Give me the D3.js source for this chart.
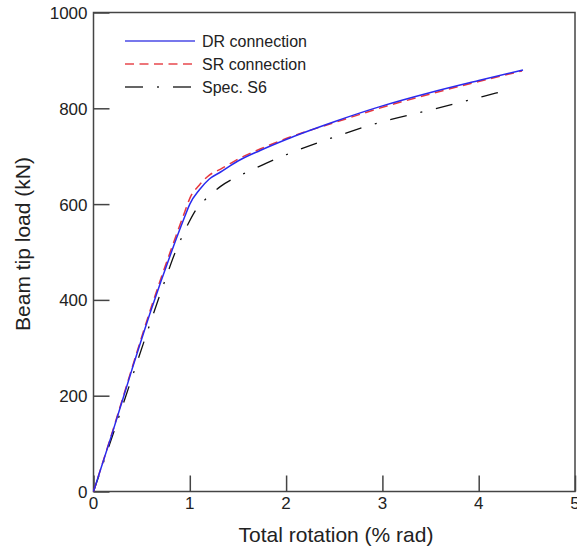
<!DOCTYPE html>
<html><head><meta charset="utf-8">
<script src="https://cdn.jsdelivr.net/npm/d3@7"></script>
<style>body{margin:0;background:#fff;} svg{display:block;font-family:"Liberation Sans",Arial,Helvetica,sans-serif;}</style>
</head><body>
<svg id="c" width="577" height="549"></svg>
<script>
const drRot  = [0, 0.2, 0.4, 0.6, 0.8, 0.95, 1.0, 1.1, 1.2, 1.32, 1.5, 1.73, 2.0, 2.5, 3.0, 3.5, 4.0, 4.46];
const drLoad = [0, 125, 255, 380, 495, 575, 600, 630, 652, 667, 690, 712, 735, 772, 805, 833, 858, 880];
const srRot  = [0, 0.2, 0.4, 0.6, 0.8, 0.95, 1.0, 1.1, 1.2, 1.32, 1.5, 1.73, 2.0, 2.5, 3.0, 3.5, 4.0, 4.45];
const srLoad = [0, 127, 258, 385, 502, 585, 612, 640, 660, 673, 694, 715, 737, 770, 802, 830, 856, 878];
const s6Rot  = [0, 0.2, 0.4, 0.6, 0.75, 0.85, 0.92, 0.986, 1.07, 1.19, 1.32, 1.47, 1.63, 1.79, 2.0, 2.5, 2.98, 3.55, 4.05, 4.3];
const s6Load = [0, 118, 238, 358, 445, 500, 532, 560, 590, 615, 637, 655, 670, 685, 703, 740, 771, 799, 825, 838];
const xTicks = [0, 1, 2, 3, 4, 5];
const yTicks = [0, 200, 400, 600, 800, 1000];
const seriesNames = ["DR connection", "SR connection", "Spec. S6"];

const svg = d3.select("#c");
const L = 93.5, R = 575, T = 12.5, B = 491.5;
const x = d3.scaleLinear().domain([0, 5]).range([L, R]);
const y = d3.scaleLinear().domain([0, 1000]).range([B, T]);
const axisColor = "#444";

svg.append("rect").attr("x", L).attr("y", T).attr("width", R - L).attr("height", B - T)
  .attr("fill", "none").attr("stroke", axisColor).attr("stroke-width", 1.5);

const xAxis = svg.append("g").attr("transform", `translate(0,${B})`)
  .call(d3.axisTop(x).tickValues(xTicks).tickSize(16).tickFormat(""));
const yAxis = svg.append("g").attr("transform", `translate(${L},0)`)
  .call(d3.axisRight(y).tickValues(yTicks).tickSize(16).tickFormat(""));
[xAxis, yAxis].forEach(a => {
  a.select(".domain").remove();
  a.selectAll("line").attr("stroke", axisColor).attr("stroke-width", 1.5);
});

svg.append("g").selectAll("text").data(xTicks).join("text")
  .attr("x", d => x(d)).attr("y", B + 17).attr("text-anchor", "middle")
  .attr("font-size", 17).attr("fill", "#222").text(d => d);
svg.append("g").selectAll("text").data(yTicks).join("text")
  .attr("x", L - 6).attr("y", d => y(d) + 6.5).attr("text-anchor", "end")
  .attr("font-size", 17).attr("fill", "#222").text(d => d);

svg.append("text").attr("x", 336).attr("y", 542).attr("text-anchor", "middle")
  .attr("font-size", 21).attr("fill", "#222").text("Total rotation (% rad)");
svg.append("text").attr("transform", `translate(30,244) rotate(-90)`)
  .attr("text-anchor", "middle").attr("font-size", 21).attr("fill", "#222").text("Beam tip load (kN)");

const line = d3.line().x(d => x(d[0])).y(d => y(d[1])).curve(d3.curveMonotoneX);
const series = [
  {rot: s6Rot, load: s6Load, color: "#111", dash: "17,14,2,14", w: 1.3},
  {rot: srRot, load: srLoad, color: "#e8383d", dash: "9,5.5", w: 1.5},
  {rot: drRot, load: drLoad, color: "#2a2aee", dash: null, w: 1.5},
];
series.forEach(s => {
  svg.append("path").datum(s.rot.map((r, i) => [r, s.load[i]]))
    .attr("d", line).attr("fill", "none").attr("stroke", s.color)
    .attr("stroke-width", s.w).attr("stroke-dasharray", s.dash);
});

const legend = [
  {name: seriesNames[0], color: "#4a4ae6", dash: null},
  {name: seriesNames[1], color: "#e8484d", dash: "9,5.5"},
  {name: seriesNames[2], color: "#333", dash: "18,14,2,14"},
];
legend.forEach((l, i) => {
  const ly = 41 + i * 23;
  svg.append("line").attr("x1", 125).attr("x2", 195).attr("y1", ly).attr("y2", ly)
    .attr("stroke", l.color).attr("stroke-width", 1.5).attr("stroke-dasharray", l.dash);
  svg.append("text").attr("x", 202).attr("y", ly + 5.5).attr("font-size", 16).attr("fill", "#222").text(l.name);
});
</script>
</body></html>
